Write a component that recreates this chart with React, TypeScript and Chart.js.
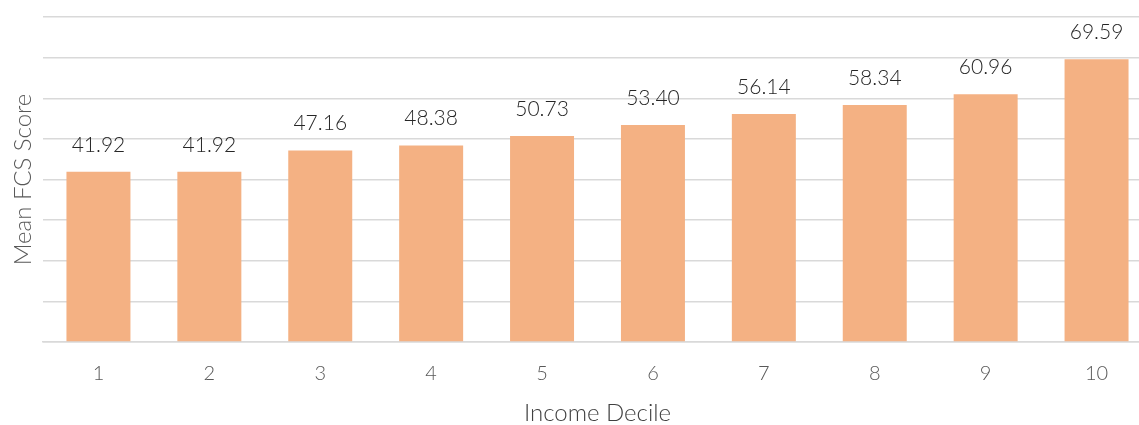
import React, { useEffect, useRef } from "react";
import { Chart, registerables } from "chart.js";

Chart.register(...registerables);

const deciles: string[] = ["1", "2", "3", "4", "5", "6", "7", "8", "9", "10"];
const meanFcs: number[] = [41.92, 41.92, 47.16, 48.38, 50.73, 53.4, 56.14, 58.34, 60.96, 69.59];

const FONT = "Lato, 'Open Sans', sans-serif";

const valueLabels = {
  id: "valueLabels",
  afterDatasetsDraw(chart: any) {
    const { ctx } = chart;
    const meta = chart.getDatasetMeta(0);
    ctx.save();
    ctx.font = `300 21px ${FONT}`;
    ctx.fillStyle = "#262626";
    ctx.textAlign = "center";
    ctx.textBaseline = "alphabetic";
    meta.data.forEach((bar: any, i: number) => {
      ctx.fillText(meanFcs[i].toFixed(2), bar.x, bar.y - 20);
    });
    ctx.restore();
  },
};

export default function App() {
  const ref = useRef<HTMLCanvasElement | null>(null);

  useEffect(() => {
    if (!ref.current) return;
    const chart = new Chart(ref.current, {
      type: "bar",
      data: {
        labels: deciles,
        datasets: [
          {
            data: meanFcs,
            backgroundColor: "#F4B183",
            borderWidth: 0,
            categoryPercentage: 1,
            barPercentage: 0.577,
          },
        ],
      },
      options: {
        animation: false,
        responsive: false,
        layout: { padding: { top: 17, right: 8, left: 0, bottom: 0 } },
        plugins: { legend: { display: false }, tooltip: { enabled: false } },
        scales: {
          x: {
            grid: { display: false, drawTicks: false },
            border: { display: true, color: "#D9D9D9", width: 1.5 },
            ticks: { color: "#595959", font: { family: FONT, size: 20, weight: 300 }, padding: 20 },
            title: {
              display: true,
              text: "Income Decile",
              color: "#404040",
              font: { family: FONT, size: 24, weight: 300, lineHeight: 1 },
              padding: { top: 0, bottom: 0 },
            },
            afterFit(scale: any) {
              scale.height = 83;
            },
          },
          y: {
            min: 0,
            max: 80,
            ticks: { display: false, stepSize: 10 },
            grid: { color: "#D9D9D9", lineWidth: 1.5, drawTicks: false },
            border: { display: false },
            title: {
              display: true,
              text: "Mean FCS Score",
              color: "#595959",
              font: { family: FONT, size: 24, weight: 300, lineHeight: 1 },
              padding: { top: 11, bottom: 0 },
            },
            afterFit(scale: any) {
              scale.width = 43;
            },
          },
        },
      },
      plugins: [valueLabels],
    });
    return () => chart.destroy();
  }, []);

  return (
    <div
      style={{
        position: "fixed",
        left: 0,
        top: 0,
        width: 1139,
        height: 425,
        overflow: "hidden",
        background: "#ffffff",
      }}
    >
      <canvas ref={ref} width={1160} height={425} style={{ display: "block" }} />
    </div>
  );
}
